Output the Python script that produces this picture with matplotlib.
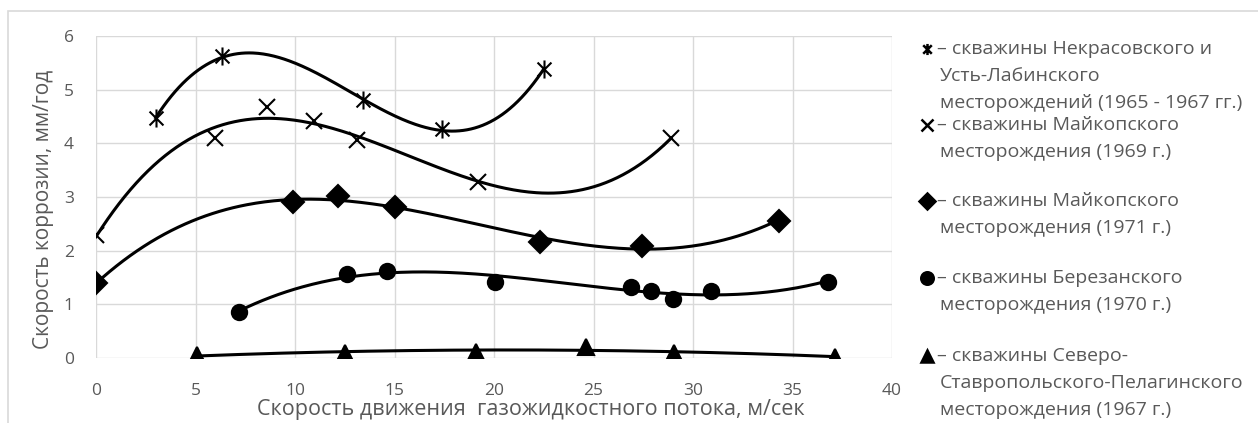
import numpy as np
import matplotlib
matplotlib.use("Agg")
import matplotlib.pyplot as plt
from matplotlib.path import Path
from matplotlib.lines import Line2D
from matplotlib.patches import Rectangle

plt.rcParams['font.family'] = ['Open Sans', 'DejaVu Sans']

# data
x_nekr = [3.0, 6.35, 13.4, 17.4, 22.5]
y_nekr = [4.47, 5.62, 4.8, 4.26, 5.38]

x_maik69 = [0.0, 6.0, 8.6, 10.95, 13.1, 19.2, 28.9]
y_maik69 = [2.29, 4.1, 4.67, 4.42, 4.06, 3.28, 4.1]

x_maik71 = [0.0, 9.9, 12.15, 15.0, 22.3, 27.45, 34.3]
y_maik71 = [1.39, 2.9, 3.02, 2.81, 2.17, 2.09, 2.56]

x_ber = [7.2, 12.6, 14.6, 20.05, 26.9, 27.9, 29.0, 30.9, 36.8]
y_ber = [0.85, 1.56, 1.62, 1.42, 1.32, 1.25, 1.1, 1.25, 1.42]

x_sev = [5.1, 12.5, 19.1, 24.6, 29.05, 37.15]
y_sev = [0.05, 0.1, 0.12, 0.2, 0.1, 0.02]

legend_lines = [
    ["– скважины Некрасовского и", "Усть-Лабинского", "месторождений (1965 - 1967 гг.)"],
    ["– скважины Майкопского", "месторождения (1969 г.)"],
    ["– скважины Майкопского", "месторождения (1971 г.)"],
    ["– скважины Березанского", "месторождения (1970 г.)"],
    ["– скважины Северо-", "Ставропольского-Пелагинского", "месторождения (1967 г.)"],
]

# star marker: X plus vertical bar (Excel style)
star = Path([(-1, -1), (1, 1), (-1, 1), (1, -1), (0, -1.3), (0, 1.3)],
            [Path.MOVETO, Path.LINETO, Path.MOVETO, Path.LINETO, Path.MOVETO, Path.LINETO])

series = [
    (x_nekr, y_nekr, star, 13, 3),
    (x_maik69, y_maik69, 'x', 12, 3),
    (x_maik71, y_maik71, 'D', 11, 3),
    (x_ber, y_ber, 'o', 11, 3),
    (x_sev, y_sev, '^', 12, 2),
]

fig = plt.figure(figsize=(12.58, 4.23), dpi=100)
fig.add_artist(Rectangle((8 / 1258, -0.1), 1.2, 1 - 11 / 423 + 0.1, transform=fig.transFigure,
                         fill=False, edgecolor='#d9d9d9', linewidth=1.2))
ax = fig.add_axes([96 / 1258, 65 / 423, 796 / 1258, 322 / 423])

for xs, ys, mk, ms, deg in series:
    xs = np.array(xs)
    ys = np.array(ys)
    coef = np.polyfit(xs, ys, deg)
    xx = np.linspace(xs.min(), xs.max(), 300)
    ax.plot(xx, np.polyval(coef, xx), color='black', lw=2.2, zorder=3)
    ax.plot(xs, ys, linestyle='none', marker=mk, ms=ms, color='black',
            mew=1.5, zorder=4)

ax.set_xlim(0, 40)
ax.set_ylim(0, 6)
ax.set_xticks(range(0, 41, 5))
ax.set_yticks(range(0, 7))
ax.grid(True, color='#d9d9d9', lw=1.0)
ax.set_axisbelow(True)
for s in ax.spines.values():
    s.set_visible(False)
ax.tick_params(length=0, labelsize=12.5, labelcolor='#595959', pad=18)
ax.tick_params(axis='y', pad=16)
ax.set_xlabel('Скорость движения  газожидкостного потока, м/сек', fontsize=15.5,
              color='#595959')
ax.xaxis.set_label_coords(0.546, -0.128)
ax.set_ylabel('Скорость коррозии, мм/год', fontsize=15, color='#595959')
ax.yaxis.set_label_coords(-0.053, 0.46)

# legend drawn by hand to the right of the plot
marker_y = [49, 125, 201, 278, 356]
legend_markers = [star, 'x', 'D', 'o', '^']
legend_ms = [8, 8, 8, 9, 9]
line_step = 27
for my, mk, ms, lines in zip(marker_y, legend_markers, legend_ms, legend_lines):
    fig.add_artist(Line2D([927 / 1258], [1 - my / 423], marker=mk, ms=ms, color='black',
                          mew=1.8, linestyle='none', transform=fig.transFigure))
    for k, t in enumerate(lines):
        xpos = 937 / 1258 if k == 0 else 940 / 1258
        fig.text(xpos, 1 - (my + k * line_step) / 423, t, fontsize=14, color='#595959',
                 va='center', ha='left')

fig.savefig('out.png', dpi=100)
